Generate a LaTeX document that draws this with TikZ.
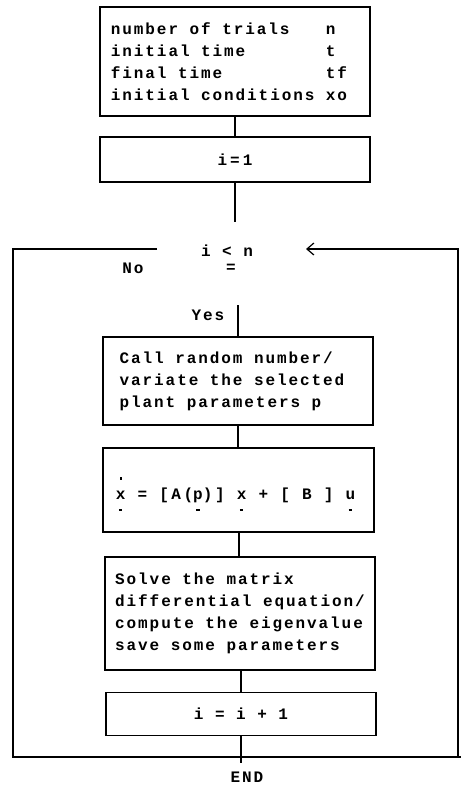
\documentclass[tikz,border=0pt]{standalone}
\usepackage{fontspec}
\usetikzlibrary{arrows.meta}
\newfontfamily\flowfont{Liberation Mono}[LetterSpace=12]
% short bar under a vector symbol, and a dot above for the time derivative
\newcommand\vbar[1]{\ooalign{#1\cr\hidewidth\raisebox{-11pt}{\rule{3.5pt}{1.4pt}}\hidewidth\cr}}
\newcommand\vdotbar[1]{\ooalign{#1\cr\hidewidth\raisebox{-11pt}{\rule{3.5pt}{1.4pt}}\hidewidth\cr\hidewidth\raisebox{20pt}{\rule{2.2pt}{2.2pt}}\hidewidth\cr}}
\begin{document}
\begin{tikzpicture}[x=1pt,y=-1pt,line width=1.2pt,
  every node/.style={font=\fontsize{16}{22}\flowfont\bfseries, text=black},
  blk/.style={draw, rectangle, inner sep=0pt, align=left},
  lbl/.style={inner sep=0pt},
  flow/.style={draw, line width=1.2pt},
  back/.style={flow, -{Straight Barb[length=7pt,width=12pt,line width=1.2pt]}}]
\useasboundingbox (0,0) rectangle (461,785);

% process boxes
\node[blk, minimum width=270pt, minimum height=109pt] (init) at (235,61.5)
  {\rule{0pt}{52pt}\begin{tabular}{@{}l@{\ }l@{}}
   number of trials & n\\
   initial time & t\\
   final time & tf\\
   initial conditions & xo
   \end{tabular}\hspace{12pt}};
\node[blk, minimum width=270pt, minimum height=45pt] (seti) at (235,159.5)
  {i\hspace{3pt}=\hspace{3pt}1};
\node[blk, minimum width=270pt, minimum height=88pt] (rand) at (238,381)
  {\begin{tabular}{@{}l@{\hspace{12pt}}}
   Call random number/\\
   variate the selected\\
   plant parameters p
   \end{tabular}};
\node[blk, minimum width=271pt, minimum height=84pt] (state) at (238.5,490)
  {\rule{0pt}{30pt}\addfontfeature{LetterSpace=16}\vdotbar{x} = [A(\vbar{p})] \vbar{x} + [ B ] \vbar{u}\hspace{6pt}};
\node[blk, minimum width=270pt, minimum height=113pt] (solve) at (240,613.5)
  {Solve the matrix\\differential equation/\\compute the eigenvalue\\save some parameters};
\node[blk, minimum width=270pt, minimum height=43pt] (inc) at (241,714) {i = i + 1};

% decision and labels
\node[lbl] (dec) at (227,251) {i < n};
\node[lbl] (deceq) at (231,268) {=};
\node[lbl] (no) at (133,268) {No};
\node[lbl] (yes) at (208,315) {Yes};
\node[lbl] (fin) at (247,777) {END};

% connector end points
\coordinate (decin) at (235,222);
\coordinate (nostart) at (157,249);
\coordinate (nocorner) at (13,249);
\coordinate (botleft) at (13,757);
\coordinate (botright) at (461,757);
\coordinate (loopbot) at (458,757);
\coordinate (looptop) at (458,249);
\coordinate (looptip) at (306,249);
\coordinate (yesstart) at (238,305);
\coordinate (endtick) at (241,763);

% connectors
\draw[flow] (init.south) -- (seti.north);
\draw[flow] (seti.south) -- (decin);
\draw[flow] (yesstart) -- (rand.north -| yesstart);
\draw[flow] (rand.south -| yesstart) -- (state.north -| yesstart);
\draw[flow] (state.south -| 239,0) -- (solve.north -| 239,0);
\draw[flow] (solve.south -| inc.center) -- (inc.north);
\draw[flow] (inc.south) -- (endtick);
\draw[flow] (nostart) -- (nocorner) -- (botleft) -- (botright);
\draw[back] (loopbot) -- (looptop) -- (looptip);
\end{tikzpicture}
\end{document}
